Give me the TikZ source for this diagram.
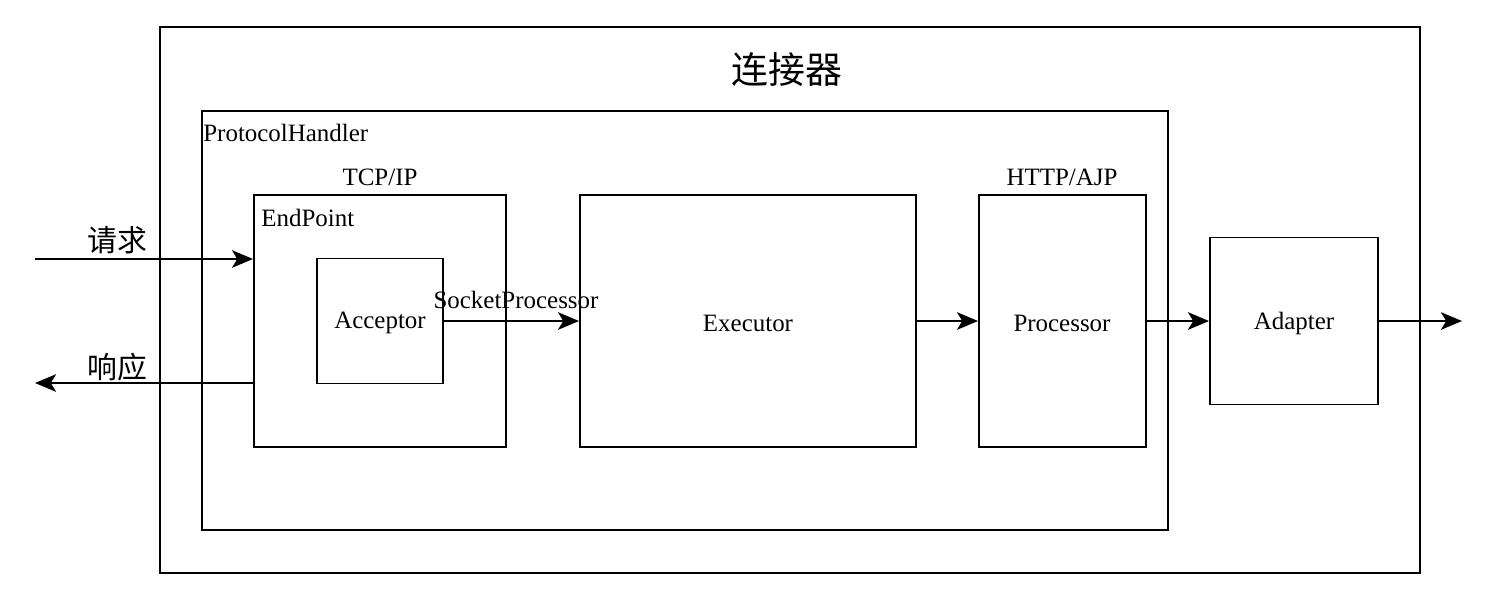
\documentclass[tikz,border=0pt]{standalone}
\usepackage{fontspec}
\setmainfont{Liberation Serif}
\newfontfamily\cjk{Noto Sans CJK SC}
\usetikzlibrary{arrows.meta}

\begin{document}
\begin{tikzpicture}[x=0.02cm,y=-0.02cm,
  box/.style={draw,line width=1.1pt,inner sep=0pt},
  flow/.style={line width=1.1pt,-{Stealth[length=12pt,width=10pt,inset=3pt]}},
  lbl/.style={font=\fontsize{14.2}{16}\selectfont,inner sep=0pt},
  zh/.style={font=\cjk\fontsize{17}{19}\selectfont,inner sep=0pt}]
\useasboundingbox (0,0) rectangle (1500,600);
% boxes
\node[box,minimum width=25.2cm,minimum height=10.92cm] (connector) at (790,300) {};
\node[box,minimum width=19.32cm,minimum height=8.38cm] (handler) at (685,320.5) {};
\node[box,minimum width=5.04cm,minimum height=5.04cm] (endpoint) at (380,321) {};
\node[box,minimum width=2.52cm,minimum height=2.5cm] (acceptor) at (380,321) {};
\node[box,minimum width=6.72cm,minimum height=5.04cm] (executor) at (748,321) {};
\node[box,minimum width=3.34cm,minimum height=5.04cm] (processor) at (1062.5,321) {};
\node[box,minimum width=3.36cm,minimum height=3.34cm] (adapter) at (1294,321) {};
% texts
\node[font=\cjk\fontsize{21}{24}\selectfont,inner sep=0pt] (title) at (787,70) {连接器};
\node[lbl,anchor=base west] (handlertxt) at (203,141) {ProtocolHandler};
\node[lbl,anchor=base west] (endpointtxt) at (261,226) {EndPoint};
\node[lbl,anchor=base] (tcpip) at (380,185) {TCP/IP};
\node[lbl,anchor=base] (httpajp) at (1062,185) {HTTP/AJP};
\node[lbl] (acceptortxt) at (380,323) {Acceptor};
\node[lbl] (executortxt) at (748,323) {Executor};
\node[lbl] (processortxt) at (1062,323) {Processor};
\node[lbl] (adaptertxt) at (1294,323) {Adapter};
\node[lbl,anchor=base] (socketproc) at (516,308) {SocketProcessor};
\node[zh] (req) at (117,240) {请求};
\node[zh] (resp) at (117,367) {响应};
% connectors
\coordinate (reqin) at (35,259);
\coordinate (respout) at (35,383);
\coordinate (out) at (1462,321);
\draw[flow] (reqin) -- (reqin -| endpoint.west);
\draw[flow] (respout -| endpoint.west) -- (respout);
\draw[flow] (acceptor.east) -- (acceptor.east -| executor.west);
\draw[flow] (executor.east) -- (processor.west);
\draw[flow] (processor.east) -- (processor.east -| adapter.west);
\draw[flow] (adapter.east) -- (adapter.east -| out);
\end{tikzpicture}
\end{document}
